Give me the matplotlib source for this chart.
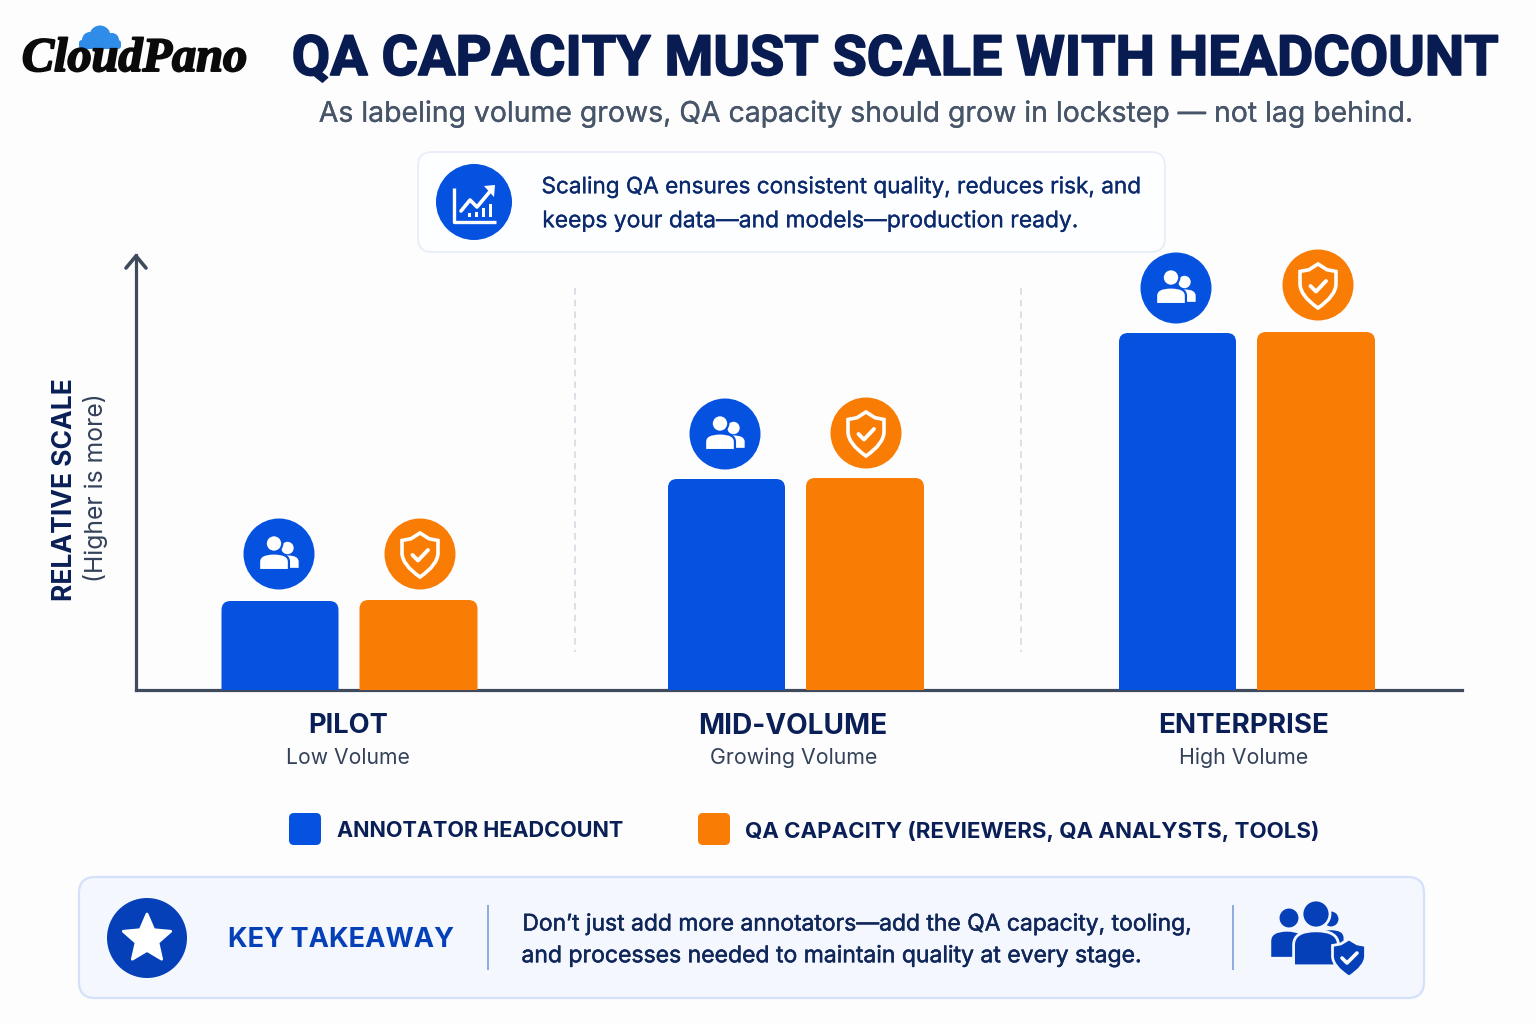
import math
import matplotlib
matplotlib.use("Agg")
import matplotlib.pyplot as plt
from matplotlib.patches import Circle, FancyBboxPatch, PathPatch, Polygon, Rectangle
from matplotlib.path import Path
import matplotlib.patheffects as pe

stages = ["PILOT", "MID-VOLUME", "ENTERPRISE"]
stage_notes = ["Low Volume", "Growing Volume", "High Volume"]
headcount = [89, 211, 357]
qa_capacity = [90, 212, 358]
series_names = ["ANNOTATOR HEADCOUNT", "QA CAPACITY (REVIEWERS, QA ANALYSTS, TOOLS)"]

BLUE = "#0552e0"; ORANGE = "#f97c05"; NAVY = "#0a1f56"; SLATE = "#475569"
AXIS = "#3f4a5c"; DEEP = "#0540b8"; BG = "#fdfdfe"; PANEL = "#f4f7fe"

plt.rcParams["font.family"] = ["Inter", "Liberation Sans", "DejaVu Sans"]
fig = plt.figure(figsize=(15.36, 10.24), dpi=100, facecolor=BG)
W, H = 1536, 1024

# Chart axes in pixel-scaled units
L, R, T, B = 136, 1462, 255, 690
ax = fig.add_axes([L / W, 1 - B / H, (R - L) / W, (B - T) / H], facecolor="none")
ax.set_xlim(L, R); ax.set_ylim(0, B - T)
for s in ["top", "right"]:
    ax.spines[s].set_visible(False)
for s in ["left", "bottom"]:
    ax.spines[s].set_color(AXIS); ax.spines[s].set_linewidth(2.3)
ax.set_yticks([])
group_x = [349.5, 796, 1247]
ax.set_xticks([g - 2 for g in group_x], [""] * 3)
ax.tick_params(length=0)

def rounded_bar(x, w, h, color, r=9):
    x0, x1 = x - w / 2, x + w / 2
    verts = [(x0, 0), (x0, h - r), (x0, h), (x0 + r, h), (x1 - r, h), (x1, h), (x1, h - r), (x1, 0), (x0, 0)]
    codes = [Path.MOVETO, Path.LINETO, Path.CURVE3, Path.CURVE3, Path.LINETO, Path.CURVE3, Path.CURVE3, Path.LINETO, Path.CLOSEPOLY]
    ax.add_patch(PathPatch(Path(verts, codes), fc=color, ec="none", zorder=3))

for g, a, b in zip(group_x, headcount, qa_capacity):
    rounded_bar(g - 69.5, 117, a, BLUE)
    rounded_bar(g + 69, 118, b, ORANGE)

# Overlay in pixel coordinates
ov = fig.add_axes([0, 0, 1, 1], facecolor="none")
ov.set_xlim(0, W); ov.set_ylim(H, 0); ov.axis("off")

renderer = fig.canvas.get_renderer()
def fit(s, x0, x1, y, size, color, weight="normal", rotation=0, stroke=0, **kw):
    """Text centred on the span x0..x1 (or vertical span when rotated), fitted to its length."""
    if rotation:
        t = ov.text(y, (x0 + x1) / 2, s, fontsize=size, color=color, weight=weight, rotation=rotation,
                    ha="center", va="center", **kw)
        ext = t.get_window_extent(renderer).height
    else:
        t = ov.text((x0 + x1) / 2, y, s, fontsize=size, color=color, weight=weight, ha="center", va="center", **kw)
        ext = t.get_window_extent(renderer).width
    t.set_fontsize(size * (x1 - x0) / ext)
    if stroke:
        t.set_path_effects([pe.withStroke(linewidth=stroke, foreground=color)])
    return t

def line(xs, ys, c, lw, **kw):
    ov.plot(xs, ys, color=c, lw=lw, solid_capstyle=kw.pop("cap", "round"), solid_joinstyle="round", **kw)

def rbox(x0, y0, x1, y1, r, fc, ec, lw):
    ov.add_patch(FancyBboxPatch((x0 + r, y0 + r), x1 - x0 - 2 * r, y1 - y0 - 2 * r,
                                boxstyle=f"round,pad={r},rounding_size={r}", fc=fc, ec=ec, lw=lw))

def person(cx, cy, s, fg, bg=None, lw=0, hw=1.8, drop=3.2, bx=0):
    """Head and shoulders; (cx,cy) is the head centre, s the head radius."""
    ov.add_patch(Circle((cx, cy), s, fc=fg, ec=bg or "none", lw=lw))
    mid = cx + bx
    x0, x1, top, bot = mid - hw * s, mid + hw * s, cy + 1.2 * s, cy + drop * s
    v = [(x0, bot), (x0, top + 1.0 * s), (x0, top), (mid, top), (x1, top), (x1, top + 1.0 * s), (x1, bot), (x0, bot)]
    c = [Path.MOVETO, Path.LINETO, Path.CURVE3, Path.CURVE3, Path.CURVE3, Path.CURVE3, Path.LINETO, Path.CLOSEPOLY]
    ov.add_patch(PathPatch(Path(v, c), fc=fg, ec=bg or "none", lw=lw))

def people_icon(cx, cy):
    ov.add_patch(Circle((cx, cy), 35.5, fc=BLUE, ec="none"))
    person(cx + 8.5, cy - 6, 6.2, "white")
    person(cx - 5, cy - 10.5, 8.3, "white", BLUE, 1.6)

def shield_path(cx, cy, w, h):
    top = cy - h / 2; bot = cy + h / 2; hw = w / 2
    v = [(cx, top), (cx + hw * .5, top + h * .13), (cx + hw, top + h * .17),
         (cx + hw, top + h * .45), (cx + hw, top + h * .72), (cx, bot),
         (cx - hw, top + h * .72), (cx - hw, top + h * .45), (cx - hw, top + h * .17),
         (cx - hw * .5, top + h * .13), (cx, top), (cx, top)]
    c = [Path.MOVETO, Path.LINETO, Path.LINETO, Path.LINETO, Path.CURVE3, Path.CURVE3,
         Path.CURVE3, Path.CURVE3, Path.LINETO, Path.LINETO, Path.LINETO, Path.CLOSEPOLY]
    return Path(v, c)

def shield_icon(cx, cy):
    ov.add_patch(Circle((cx, cy), 35.5, fc=ORANGE, ec="none"))
    ov.add_patch(PathPatch(shield_path(cx, cy + 1, 36, 44), fc="none", ec="white", lw=2.6))
    line([cx - 7.5, cx - 2, cx + 8], [cy + 1, cy + 6.5, cy - 4], "white", 2.8)

for x, y in [(279, 554), (725, 434), (1176, 288)]:
    people_icon(x, y)
for x, y in [(420, 554), (866, 433), (1318, 285)]:
    shield_icon(x, y)

# Separators and axis arrow
for x in (575, 1021):
    line([x, x], [288, 652], "#d6dae1", 1.2, ls=(0, (4, 3)))
line([126, 136, 146], [268, 256, 268], AXIS, 2.6)

# Logo
fit("CloudPano", 22, 247, 59, 40, "#0a0a0a", "bold", family=["Liberation Serif"], style="italic", stroke=1.4)
CLOUD = "#2f8ce8"
ov.add_patch(FancyBboxPatch((82, 43), 36, 3, boxstyle="round,pad=3,rounding_size=3", fc=CLOUD, ec="none"))
ov.add_patch(Circle((90, 40), 8, fc=CLOUD, ec="none"))
ov.add_patch(Circle((100, 36), 10.5, fc=CLOUD, ec="none"))
ov.add_patch(Circle((112, 40), 7, fc=CLOUD, ec="none"))

# Titles
fit("QA CAPACITY MUST SCALE WITH HEADCOUNT", 291, 1498, 60, 42, "#081c52", "bold", family=["Roboto"], stroke=1.2)
fit("As labeling volume grows, QA capacity should grow in lockstep — not lag behind.", 319, 1415, 114, 21, SLATE, stroke=0.2)

# Callout
rbox(418, 152, 1165, 252, 14, "#fdfeff", "#e8edf8", 1.3)
ov.add_patch(Circle((474, 202), 38, fc=BLUE, ec="none"))
line([454, 454, 496], [188, 222, 222], "white", 2.4, cap="butt")
line([461, 470, 477, 492], [211, 200, 207, 189], "white", 2.6)
ov.add_patch(Polygon([[484, 186], [495, 185], [494, 197]], fc="white", ec="none"))
for x, h in [(469, 4), (476, 5), (483, 9), (490, 13)]:
    ov.add_patch(Rectangle((x - 1.5, 217 - h), 3, h, fc="white", ec="none"))
CAL = "#0b2a6e"
fit("Scaling QA ensures consistent quality, reduces risk, and", 541, 1141, 187, 17.5, CAL, stroke=0.2)
fit("keeps your data—and models—production ready.", 541, 1078, 221, 17.5, CAL, stroke=0.2)

# Axis titles
fit("RELATIVE SCALE", 379, 601, 65, 18, NAVY, "bold", rotation=90)
fit("(Higher is more)", 393, 582, 96, 17, "#33415a", rotation=90)

# Category labels
spans = [(308, 388), (698, 887), (1159, 1329)]
note_spans = [(286, 410), (710, 878), (1179, 1309)]
for name, note, sp, nsp in zip(stages, stage_notes, spans, note_spans):
    fit(name, sp[0], sp[1], 726, 19.5, NAVY, "bold")
    fit(note, nsp[0], nsp[1], 758, 16, "#33415a")

# Legend
rbox(289, 813, 321, 845, 5, BLUE, "none", 0)
rbox(698, 813, 730, 845, 5, ORANGE, "none", 0)
fit(series_names[0], 337, 624, 831, 16.5, NAVY, "bold")
fit(series_names[1], 745, 1319, 831, 16.5, NAVY, "bold")

# Takeaway
rbox(79, 877, 1424, 998, 16, PANEL, "#d5e1fa", 1.6)
ov.add_patch(Circle((147, 938), 40, fc=DEEP, ec="none"))
star = []
for i in range(10):
    r = 25 if i % 2 == 0 else 11.5
    a = -math.pi / 2 + i * math.pi / 5
    star.append((147 + r * math.cos(a), 939 + r * math.sin(a)))
ov.add_patch(Polygon(star, fc="white", ec="white", lw=2, joinstyle="round"))
fit("KEY TAKEAWAY", 228, 454, 940, 22, DEEP, "bold")
line([488, 488], [905, 970], "#8fabe0", 1.4, cap="butt")
line([1233, 1233], [905, 970], "#8fabe0", 1.4, cap="butt")
fit("Don’t just add more annotators—add the QA capacity, tooling,", 521, 1191, 924, 17, "#0f2658", stroke=0.35)
fit("and processes needed to maintain quality at every stage.", 521, 1142, 956, 17, "#0f2658", stroke=0.35)

# Team + shield icon
person(1331, 919, 8.5, DEEP, PANEL, 1.5, hw=1.6, drop=3.2)
person(1289, 918, 10.5, DEEP, PANEL, 1.5, hw=1.6, drop=3.8, bx=-2)
person(1316, 914, 14, DEEP, PANEL, 2, hw=1.6, drop=3.7)
ov.add_patch(PathPatch(shield_path(1349, 958, 33, 38), fc=DEEP, ec=PANEL, lw=2))
line([1342, 1347, 1357], [958, 963, 953], "white", 2.6)

fig.savefig("out.png", dpi=100, facecolor=BG)
